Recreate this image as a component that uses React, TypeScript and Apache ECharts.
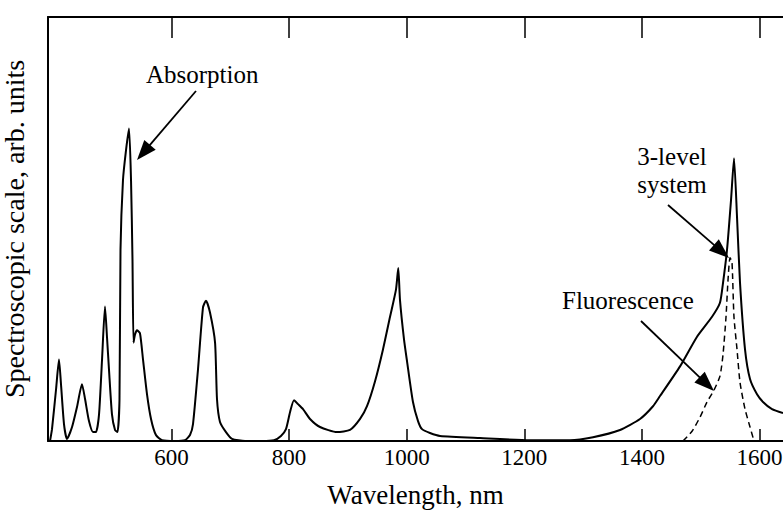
import React, { useEffect, useRef } from "react";
import * as echarts from "echarts";

// Tick marks / labels on the wavelength axis (nm)
const wavelengthTicks = [600, 800, 1000, 1200, 1400, 1600];

// Absorption spectrum (solid line): wavelength in nm, level in arb. units
const absorptionNm = [
  393.4, 396.8, 403.7, 408.7, 412.1, 417.2, 422.3, 430.9, 439.3, 447.8,
  453.0, 459.7, 466.5, 471.6, 476.8, 481.9, 486.9, 490.3, 493.7, 498.8,
  504.0, 508.2, 511.6, 513.3, 517.5, 522.6, 527.8, 531.2, 533.7, 535.4,
  538.0, 541.3, 546.4, 551.6, 558.4, 565.2, 573.6, 583.9, 606.0, 622.9,
  631.5, 636.6, 645.1, 653.6, 658.7, 665.5, 674.1, 677.4, 682.5, 692.7,
  703.0, 725.1, 754.0, 774.4, 786.2, 794.7, 801.6, 808.4, 815.1, 823.7,
  835.6, 852.6, 881.5, 903.6, 920.7, 932.5, 946.2, 959.7, 971.7, 981.8,
  985.7, 988.6, 995.5, 1000.6, 1010.7, 1019.3, 1026.1, 1039.6, 1056.7, 1124.7,
  1209.7, 1277.7, 1316.9, 1362.8, 1396.8, 1418.9, 1430.8, 1464.9, 1493.8, 1519.3,
  1532.8, 1538.0, 1544.8, 1551.6, 1556.7, 1561.8, 1566.9, 1575.4, 1583.9, 1595.8,
  1606.0, 1621.3, 1640.0,
];
const absorptionLevel = [
  0, 2.8, 12.2, 19.2, 13.4, 4.0, 0.5, 3.3, 8.0, 13.4,
  9.9, 4.7, 2.1, 2.1, 6.3, 19.2, 31.7, 24.6, 16.9, 6.3,
  2.6, 2.1, 9.9, 45.1, 61.5, 68.5, 73.7, 61.5, 42.7, 23.2,
  25.1, 26.1, 25.4, 19.2, 11.0, 5.2, 1.4, 0.2, 0, 0.2,
  1.4, 4.0, 16.9, 31.5, 33.1, 30.3, 23.2, 9.9, 4.5, 2.1,
  0.5, 0, 0, 0.2, 1.2, 2.8, 6.8, 9.6, 8.7, 7.5,
  5.2, 3.3, 2.1, 2.6, 5.2, 8.2, 14.1, 21.6, 29.3, 35.7,
  40.8, 33.3, 23.9, 18.8, 9.2, 4.7, 2.8, 1.9, 1.2, 0.7,
  0.2, 0.2, 0.9, 2.6, 5.2, 8.2, 10.6, 17.6, 24.6, 29.3,
  32.6, 37.3, 45.1, 56.8, 66.7, 52.8, 37.3, 21.6, 14.6, 11.0,
  9.2, 7.5, 6.6,
];

// Fluorescence band (dashed line)
const fluorescenceNm = [
  1469.9, 1485.3, 1498.8, 1510.8, 1522.6, 1532.8, 1538.0, 1543.1, 1546.5, 1549.9,
  1553.2, 1556.6, 1561.8, 1566.9, 1575.4, 1583.9, 1590.7,
];
const fluorescenceLevel = [
  0, 2.3, 5.6, 9.2, 12.0, 15.3, 20.4, 29.3, 38.0, 43.2,
  42.3, 29.3, 21.6, 13.8, 7.5, 3.3, 0,
];

const FONT = '"Liberation Serif", "Times New Roman", serif';

function arrow(x1: number, y1: number, x2: number, y2: number) {
  const dx = x2 - x1;
  const dy = y2 - y1;
  const len = Math.hypot(dx, dy);
  const ux = dx / len;
  const uy = dy / len;
  const headLen = 20;
  const headHalf = 7.5;
  const bx = x2 - ux * headLen;
  const by = y2 - uy * headLen;
  return [
    {
      type: "line",
      shape: { x1, y1, x2: bx + ux * 2, y2: by + uy * 2 },
      style: { stroke: "#000", lineWidth: 1.8 },
      silent: true,
    },
    {
      type: "polygon",
      shape: {
        points: [
          [x2, y2],
          [bx - uy * headHalf, by + ux * headHalf],
          [bx + uy * headHalf, by - ux * headHalf],
        ],
      },
      style: { fill: "#000" },
      silent: true,
    },
  ];
}

function label(text: string, x: number, y: number, align: string) {
  return {
    type: "text",
    x,
    y,
    silent: true,
    style: {
      text,
      fill: "#000",
      fontSize: 25,
      fontFamily: FONT,
      textAlign: align,
      textVerticalAlign: "middle",
      align,
      verticalAlign: "middle",
    },
  };
}

export default function App() {
  const ref = useRef<HTMLDivElement>(null);

  useEffect(() => {
    if (!ref.current) return;
    const chart = echarts.init(ref.current, null, { renderer: "svg" });

    chart.setOption({
      animation: false,
      backgroundColor: "#fff",
      grid: {
        left: 48,
        top: 17,
        right: 0,
        bottom: 73,
        containLabel: false,
        outerBoundsMode: "none",
      },
      xAxis: [
        {
          type: "value",
          position: "bottom",
          min: 390,
          max: 1640,
          axisLine: { show: true, onZero: false, lineStyle: { color: "#000", width: 2 } },
          axisTick: {
            show: true,
            inside: true,
            length: 12,
            customValues: wavelengthTicks,
            lineStyle: { color: "#000", width: 1.5 },
          },
          axisLabel: {
            show: true,
            customValues: wavelengthTicks,
            margin: 5,
            fontFamily: FONT,
            fontSize: 23,
            color: "#000",
            formatter: (v: number) => String(v),
          },
          splitLine: { show: false },
          name: "Wavelength, nm",
          nameLocation: "middle",
          nameGap: 40,
          nameTextStyle: { fontFamily: FONT, fontSize: 27, color: "#000" },
        },
        {
          type: "value",
          position: "top",
          min: 390,
          max: 1640,
          axisLine: { show: true, onZero: false, lineStyle: { color: "#000", width: 2 } },
          axisTick: {
            show: true,
            inside: true,
            length: 21,
            customValues: wavelengthTicks,
            lineStyle: { color: "#000", width: 1.5 },
          },
          axisLabel: { show: false },
          splitLine: { show: false },
        },
      ],
      yAxis: {
        type: "value",
        min: 0,
        max: 100,
        axisLine: { show: true, onZero: false, lineStyle: { color: "#000", width: 2 } },
        axisTick: { show: false },
        axisLabel: { show: false },
        splitLine: { show: false },
        name: "Spectroscopic scale, arb. units",
        nameLocation: "middle",
        nameGap: 20,
        nameRotate: 90,
        nameTextStyle: { fontFamily: FONT, fontSize: 28, color: "#000" },
      },
      series: [
        {
          name: "Absorption",
          type: "line",
          xAxisIndex: 0,
          data: absorptionNm.map((nm, i) => [nm, absorptionLevel[i]]),
          showSymbol: false,
          smooth: 0.2,
          lineStyle: { color: "#000", width: 2 },
        },
        {
          name: "Fluorescence",
          type: "line",
          xAxisIndex: 0,
          data: fluorescenceNm.map((nm, i) => [nm, fluorescenceLevel[i]]),
          showSymbol: false,
          smooth: 0.2,
          lineStyle: { color: "#000", width: 1.5, type: [6, 4] },
        },
      ],
      graphic: [
        label("Absorption", 146, 74, "left"),
        ...arrow(196, 91, 137, 160),
        label("3-level", 672, 156, "center"),
        label("system", 672, 184, "center"),
        ...arrow(668, 205, 729, 258),
        label("Fluorescence", 562, 300, "left"),
        ...arrow(641, 321, 714, 391),
      ],
    });

    return () => chart.dispose();
  }, []);

  return (
    <div
      ref={ref}
      style={{ position: "fixed", left: 0, top: 0, width: 783, height: 514, background: "#fff" }}
    />
  );
}
